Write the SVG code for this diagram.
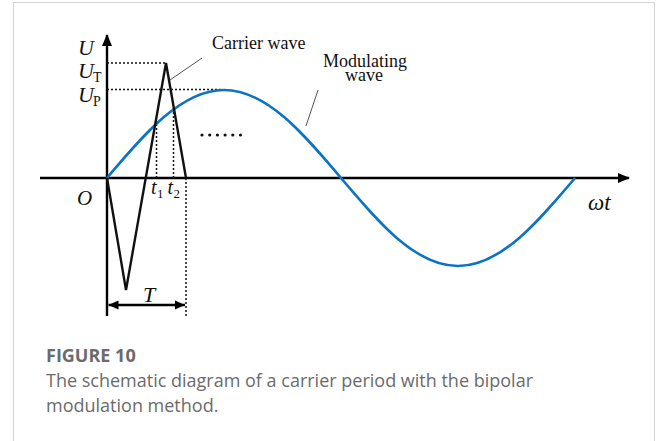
<svg xmlns="http://www.w3.org/2000/svg" width="656" height="441" viewBox="0 0 656 441">
<style>
.ax{stroke:#000;stroke-width:2.4;fill:none}
.car{stroke:#111;stroke-width:2.4;fill:none;stroke-linejoin:miter}
.sine{stroke:#0a73c4;stroke-width:2.6;fill:none}
.dot{stroke:#111;stroke-width:1.5;stroke-dasharray:2 2;fill:none}
.lead{stroke:#555;stroke-width:1;fill:none}
.m{font-family:"Liberation Serif","Times New Roman",serif;font-style:italic;fill:#111}
.s{font-family:"Liberation Serif","Times New Roman",serif;fill:#111}
.cap{font-family:"Open Sans","Noto Sans",sans-serif;fill:#6b6b6b;font-size:18px}
</style>
<defs>
<marker id="ah" viewBox="0 0 12 12" refX="11" refY="6" markerWidth="12" markerHeight="12" markerUnits="userSpaceOnUse" orient="auto-start-reverse">
<path d="M0,1 L12,6 L0,11 z" fill="#000"/>
</marker>
<marker id="ah2" viewBox="0 0 10 10" refX="10" refY="5" markerWidth="10" markerHeight="10" markerUnits="userSpaceOnUse" orient="auto-start-reverse">
<path d="M0,0.5 L10,5 L0,9.5 z" fill="#000"/>
</marker>
</defs>
<rect x="13.5" y="2.5" width="641" height="470" fill="#fff" stroke="#d4d4d4" stroke-width="1"/>
<g id="connectors">
<line class="ax" x1="107" y1="316" x2="107" y2="35" marker-end="url(#ah)"/>
<line class="ax" x1="40" y1="178" x2="629" y2="178" marker-end="url(#ah)"/>
<line class="dot" x1="107" y1="63" x2="166" y2="63"/>
<line class="dot" x1="107" y1="89.5" x2="222" y2="89.5"/>
<line class="dot" x1="156.5" y1="178" x2="156.5" y2="121"/>
<line class="dot" x1="173.5" y1="178" x2="173.5" y2="107"/>
<line class="dot" x1="186" y1="178" x2="186" y2="317"/>
<line class="ax" x1="108.5" y1="305" x2="185" y2="305" stroke-width="2" marker-start="url(#ah2)" marker-end="url(#ah2)"/>
<line class="lead" x1="202" y1="58" x2="170" y2="80"/>
<line class="lead" x1="318" y1="90" x2="306" y2="126"/>
</g>
<g id="modulating-wave">
<path class="sine" d="M107,178 C145.16,132.92 181.65,90 224,90 S302.84,132.92 341,178 S415.65,266 458,266 S536.84,223.08 575,178"/>
</g>
<g id="carrier-wave">
<path class="car" d="M107,178 L126,290 L166,63 L186,178"/>
</g>
<g id="dots" fill="#111">
<circle cx="202" cy="135" r="1.6"/><circle cx="209.7" cy="135" r="1.6"/><circle cx="217.4" cy="135" r="1.6"/><circle cx="225.1" cy="135" r="1.6"/><circle cx="232.8" cy="135" r="1.6"/><circle cx="240.5" cy="135" r="1.6"/>
</g>
<g id="labels">
<text class="m" x="78" y="55" font-size="22">U</text>
<text class="m" x="78" y="78" font-size="22">U</text><text class="s" x="93" y="82" font-size="14">T</text>
<text class="m" x="78" y="102" font-size="22">U</text><text class="s" x="93" y="106" font-size="14">P</text>
<text class="m" x="77" y="205" font-size="21">O</text>
<text class="m" x="151" y="194" font-size="20">t</text><text class="s" x="157" y="198" font-size="13">1</text>
<text class="m" x="167.5" y="194" font-size="20">t</text><text class="s" x="173.5" y="198" font-size="13">2</text>
<text class="m" x="143" y="302" font-size="22">T</text>
<text class="m" x="588" y="210" font-size="23">ωt</text>
<text class="s" x="212" y="49" font-size="18">Carrier wave</text>
<text class="s" x="365" y="67" font-size="18" text-anchor="middle">Modulating</text>
<text class="s" x="364" y="80.5" font-size="18" text-anchor="middle">wave</text>
</g>
<g id="caption">
<text class="cap" x="46" y="362" font-weight="bold" fill="#5f5f5f">FIGURE 10</text>
<text class="cap" x="46" y="387">The schematic diagram of a carrier period with the bipolar</text>
<text class="cap" x="46" y="412">modulation method.</text>
</g>
</svg>
